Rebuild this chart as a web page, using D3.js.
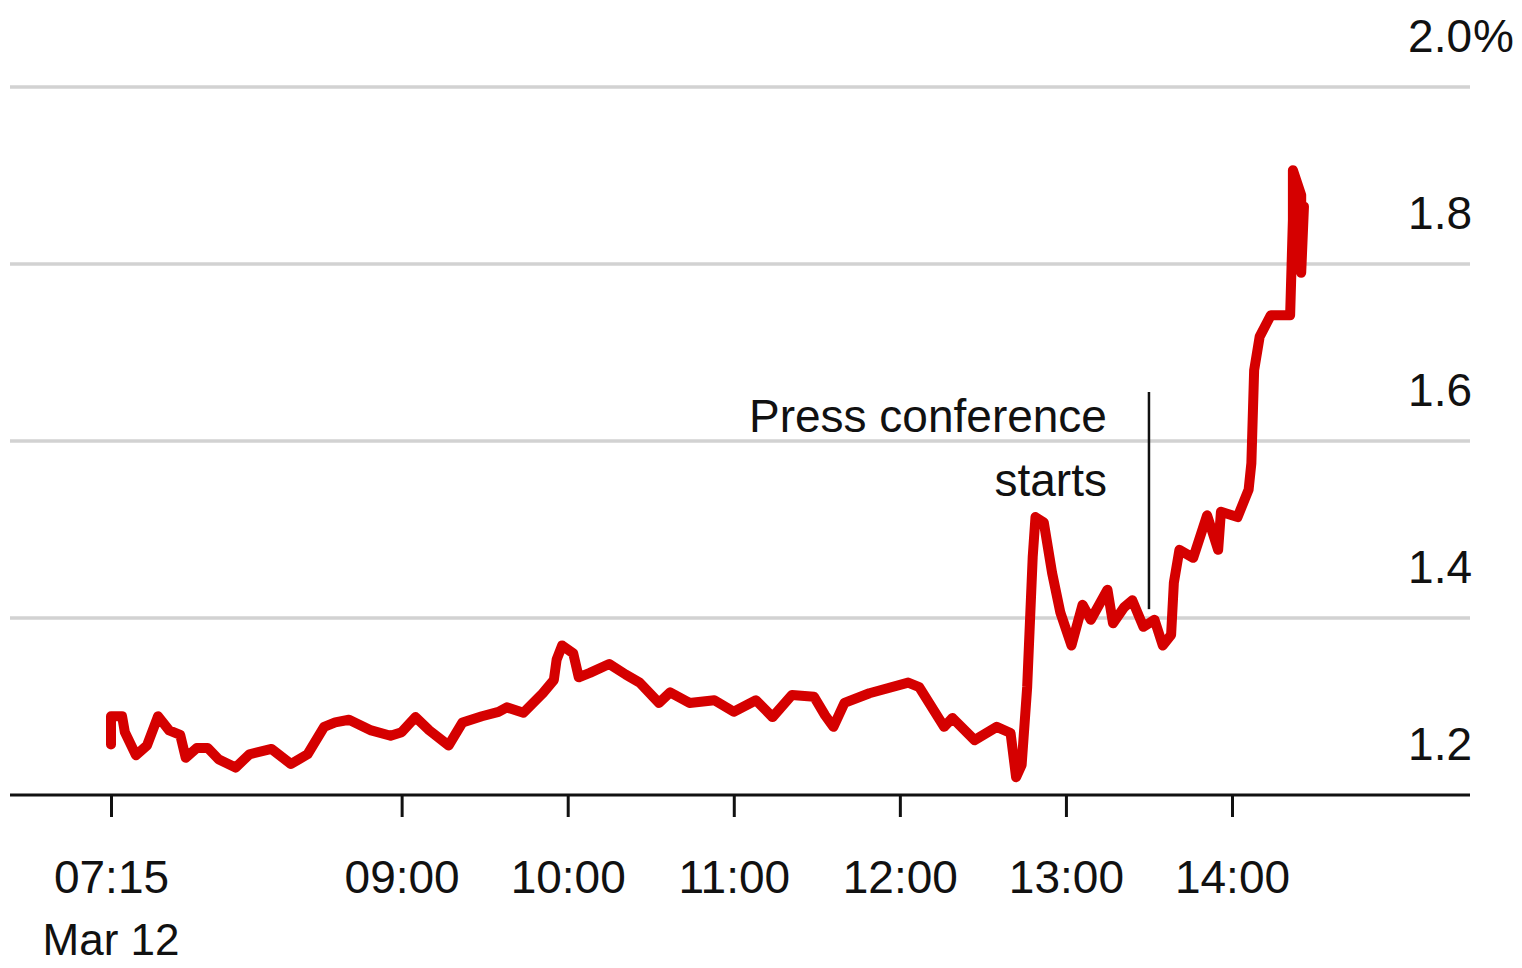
<!DOCTYPE html>
<html>
<head>
<meta charset="utf-8">
<script src="https://cdn.jsdelivr.net/npm/d3@7"></script>
<style>
  body { margin: 0; background: #fff; }
  svg text { font-family: "Liberation Sans", Arial, sans-serif; fill: #111; }
</style>
</head>
<body>
<div id="chart"></div>
<script>
// yield in %, intraday Mar 12
var times = ["07:15","07:15","07:19","07:20","07:24","07:28","07:32","07:36","07:40","07:42",
  "07:46","07:50","07:54","08:00","08:05","08:13","08:20","08:26","08:32","08:36",
  "08:41","08:49","08:56","09:00","09:05","09:10","09:17","09:22","09:29","09:35",
  "09:38","09:44","09:51","09:55","09:56","09:58","10:02","10:04","10:08","10:15",
  "10:21","10:26","10:33","10:37","10:44","10:53","11:00","11:08","11:14","11:21",
  "11:29","11:33","11:36","11:40","11:49","12:03","12:07","12:16","12:19","12:27",
  "12:35","12:40","12:42","12:44","12:46","12:48","12:49","12:52","12:55","12:58",
  "13:02","13:06","13:09","13:15","13:17","13:21","13:24","13:28","13:32","13:35",
  "13:38","13:39","13:41","13:46","13:51","13:55","13:56","14:02","14:06","14:07",
  "14:08","14:10","14:14","14:21","14:22","14:22","14:25","14:25","14:26"];
var values = [1.257,1.289,1.289,1.271,1.245,1.256,1.289,1.273,1.268,1.242,
  1.253,1.253,1.240,1.231,1.246,1.252,1.235,1.246,1.277,1.282,
  1.285,1.273,1.267,1.271,1.288,1.273,1.256,1.282,1.289,1.294,
  1.299,1.293,1.315,1.330,1.353,1.369,1.360,1.333,1.338,1.348,
  1.336,1.327,1.304,1.316,1.304,1.307,1.294,1.307,1.288,1.313,
  1.311,1.290,1.277,1.304,1.315,1.327,1.322,1.277,1.287,1.262,
  1.277,1.270,1.220,1.234,1.322,1.469,1.514,1.508,1.451,1.406,
  1.369,1.415,1.398,1.432,1.394,1.412,1.420,1.390,1.398,1.369,
  1.381,1.440,1.477,1.468,1.516,1.477,1.520,1.514,1.545,1.575,
  1.680,1.718,1.742,1.742,1.850,1.906,1.878,1.790,1.865];

var xTickLabels = ["07:15","09:00","10:00","11:00","12:00","13:00","14:00"];
var yTicks = [1.2, 1.4, 1.6, 1.8, 2.0];
var annotTime = "13:30";
var annotValue = 1.41;
var annotLines = ["Press conference", "starts"];

var fullwidth = 1522, fullheight = 968;
var left = 10, right = 1470, baseY = 795, topY = 87;

var parse = d3.timeParse("%H:%M");
var data = times.map(function(t, i) { return {t: parse(t), v: values[i]}; });

var xScale = d3.scaleTime()
    .domain([parse("07:15"), parse("14:00")])
    .range([111, 1232]);

var yScale = d3.scaleLinear()
    .domain([1.2, 2.0])
    .range([baseY, topY]);

var svg = d3.select("#chart").append("svg")
    .attr("width", fullwidth)
    .attr("height", fullheight);

// gridlines
svg.selectAll("line.grid")
    .data(yTicks.filter(function(d) { return d > 1.2; }))
    .enter().append("line")
    .attr("class", "grid")
    .attr("x1", left).attr("x2", right)
    .attr("y1", function(d) { return yScale(d); })
    .attr("y2", function(d) { return yScale(d); })
    .attr("stroke", "#d2d2d2")
    .attr("stroke-width", 3.5);

// y labels sit above their gridline
svg.selectAll("text.ylab")
    .data(yTicks)
    .enter().append("text")
    .attr("class", "ylab")
    .attr("x", 1472)
    .attr("y", function(d) { return yScale(d) - 35; })
    .attr("text-anchor", "end")
    .style("font-size", "46px")
    .text(function(d) { return d3.format(".1f")(d); });

svg.append("text")
    .attr("x", 1473)
    .attr("y", yScale(2.0) - 35)
    .style("font-size", "46px")
    .text("%");

// x axis
var xAxis = d3.axisBottom(xScale)
    .tickValues(xTickLabels.map(parse))
    .tickSize(22)
    .tickFormat(d3.timeFormat("%H:%M"));

var gx = svg.append("g")
    .attr("transform", "translate(0," + baseY + ")")
    .call(xAxis);
gx.select(".domain").remove();
gx.selectAll(".tick line")
    .attr("stroke", "#111")
    .attr("stroke-width", 3);
gx.selectAll(".tick text")
    .attr("y", 98)
    .attr("dy", 0)
    .style("font-size", "46px")
    .attr("fill", "#111");

gx.append("text")
    .attr("x", xScale(parse("07:15")))
    .attr("y", 160)
    .attr("text-anchor", "middle")
    .style("font-size", "44px")
    .attr("fill", "#111")
    .text("Mar 12");

svg.append("line")
    .attr("x1", left).attr("x2", right)
    .attr("y1", baseY).attr("y2", baseY)
    .attr("stroke", "#111")
    .attr("stroke-width", 3);

// annotation
var ax = xScale(parse(annotTime));
svg.append("line")
    .attr("x1", ax).attr("x2", ax)
    .attr("y1", 392)
    .attr("y2", yScale(annotValue))
    .attr("stroke", "#111")
    .attr("stroke-width", 2.5);

svg.selectAll("text.annot")
    .data(annotLines)
    .enter().append("text")
    .attr("class", "annot")
    .attr("x", ax - 42)
    .attr("y", function(d, i) { return 432 + i * 64; })
    .attr("text-anchor", "end")
    .style("font-size", "46px")
    .text(function(d) { return d; });

// the series
var line = d3.line()
    .x(function(d) { return xScale(d.t); })
    .y(function(d) { return yScale(d.v); });

svg.append("path")
    .datum(data)
    .attr("d", line)
    .attr("fill", "none")
    .attr("stroke", "#d50000")
    .attr("stroke-width", 10)
    .attr("stroke-linejoin", "round")
    .attr("stroke-linecap", "round");
</script>
</body>
</html>
